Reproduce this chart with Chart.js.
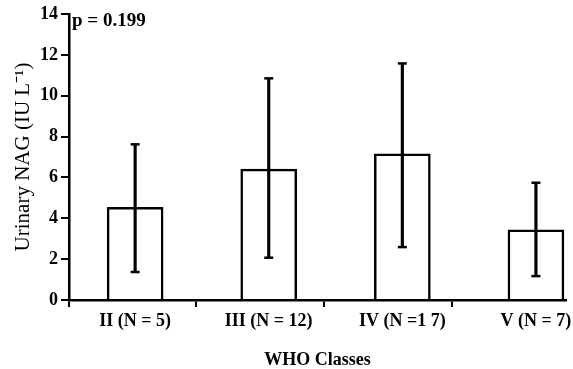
<!DOCTYPE html>
<html>
<head>
<meta charset="utf-8">
<script src="https://cdn.jsdelivr.net/npm/chart.js@4"></script>
<style>
  html, body { margin: 0; padding: 0; background: #fff; overflow: hidden; }
</style>
</head>
<body>
<canvas id="nagChart" width="573" height="369"></canvas>
<script>
// data
const classes = ['II (N = 5)', 'III (N = 12)', 'IV (N =1 7)', 'V (N = 7)'];
const classPos = [1, 2, 3, 4];
const meanNAG = [4.54, 6.41, 7.15, 3.43];
const lowNAG = [1.37, 2.07, 2.59, 1.17];
const highNAG = [7.62, 10.85, 11.58, 5.74];
const yTicks = [0, 2, 4, 6, 8, 10, 12, 14];
// the odd little tick marks under the x axis
const xTickMarks = [0.505, 1.458, 2.41, 3.37];

const serif = '"Liberation Serif", "Times New Roman", serif';

const pValue = {
  id: 'pValue',
  afterDraw(chart) {
    const c = chart.ctx;
    c.save();
    c.font = 'bold 19px ' + serif;
    c.fillStyle = '#000';
    c.textBaseline = 'middle';
    c.fillText('p = 0.199', chart.chartArea.left + 3, chart.chartArea.top + 7);
    c.restore();
  }
};

const ctx = document.getElementById('nagChart').getContext('2d');
new Chart(ctx, {
  data: {
    datasets: [{
      type: 'bar',
      data: classPos.map((x, i) => ({ x: x, y: [lowNAG[i], highNAG[i]] })),
      backgroundColor: '#000',
      borderWidth: 0,
      barThickness: 2.5,
      grouped: false,
      order: 1
    }, {
      type: 'scatter',
      data: classPos.map((x, i) => ({ x: x, y: lowNAG[i] }))
        .concat(classPos.map((x, i) => ({ x: x, y: highNAG[i] }))),
      pointStyle: 'line',
      radius: 4.5,
      borderColor: '#000',
      borderWidth: 2.5,
      order: 0
    }, {
      type: 'bar',
      data: classPos.map((x, i) => ({ x: x, y: meanNAG[i] })),
      backgroundColor: '#fff',
      borderColor: '#000',
      borderWidth: 2.5,
      barThickness: 56,
      grouped: false,
      order: 2
    }]
  },
  options: {
    responsive: false,
    animation: false,
    layout: { padding: { top: 14, right: 0, bottom: 0, left: 0 } },
    plugins: {
      legend: { display: false },
      tooltip: { enabled: false }
    },
    scales: {
      x: {
        type: 'linear',
        offset: false,
        min: 0.505,
        max: 4.225,
        afterBuildTicks: (axis) => {
          axis.ticks = xTickMarks.concat(classPos)
            .sort((a, b) => a - b)
            .map(v => ({ value: v }));
        },
        afterFit: (axis) => {
          axis.height = 69;
          axis.paddingLeft = 0;
          axis.paddingRight = 0;
        },
        ticks: {
          autoSkip: false,
          maxRotation: 0,
          padding: 4,
          color: '#000',
          font: { family: serif, size: 18, weight: 'bold' },
          callback: (value) => {
            const i = classPos.indexOf(value);
            return i >= 0 ? classes[i] : '';
          }
        },
        grid: {
          offset: false,
          drawOnChartArea: false,
          tickLength: 7,
          lineWidth: 2,
          color: (c) => (c.tick && xTickMarks.includes(c.tick.value)) ? '#000' : 'rgba(0,0,0,0)'
        },
        border: { color: '#000', width: 2.5 },
        title: {
          display: true,
          text: 'WHO Classes',
          color: '#000',
          padding: { top: 0, bottom: 0 },
          font: { family: serif, size: 18, weight: 'bold', lineHeight: 1 }
        }
      },
      y: {
        min: 0,
        max: 14,
        afterBuildTicks: (axis) => {
          axis.ticks = yTicks.map(v => ({ value: v }));
        },
        afterFit: (axis) => {
          axis.width = 69;
          axis.paddingTop = 0;
          axis.paddingBottom = 0;
        },
        ticks: {
          padding: 3,
          color: '#000',
          font: { family: serif, size: 18, weight: 'bold' }
        },
        grid: {
          drawOnChartArea: false,
          tickLength: 8,
          lineWidth: 2,
          color: '#000'
        },
        border: { color: '#000', width: 2.5 },
        title: {
          display: true,
          text: 'Urinary NAG (IU L\u207B\u00B9)',
          color: '#000',
          padding: { top: 11, bottom: 0 },
          font: { family: serif, size: 21, lineHeight: 1.2 }
        }
      }
    }
  },
  plugins: [pValue]
});
</script>
</body>
</html>
